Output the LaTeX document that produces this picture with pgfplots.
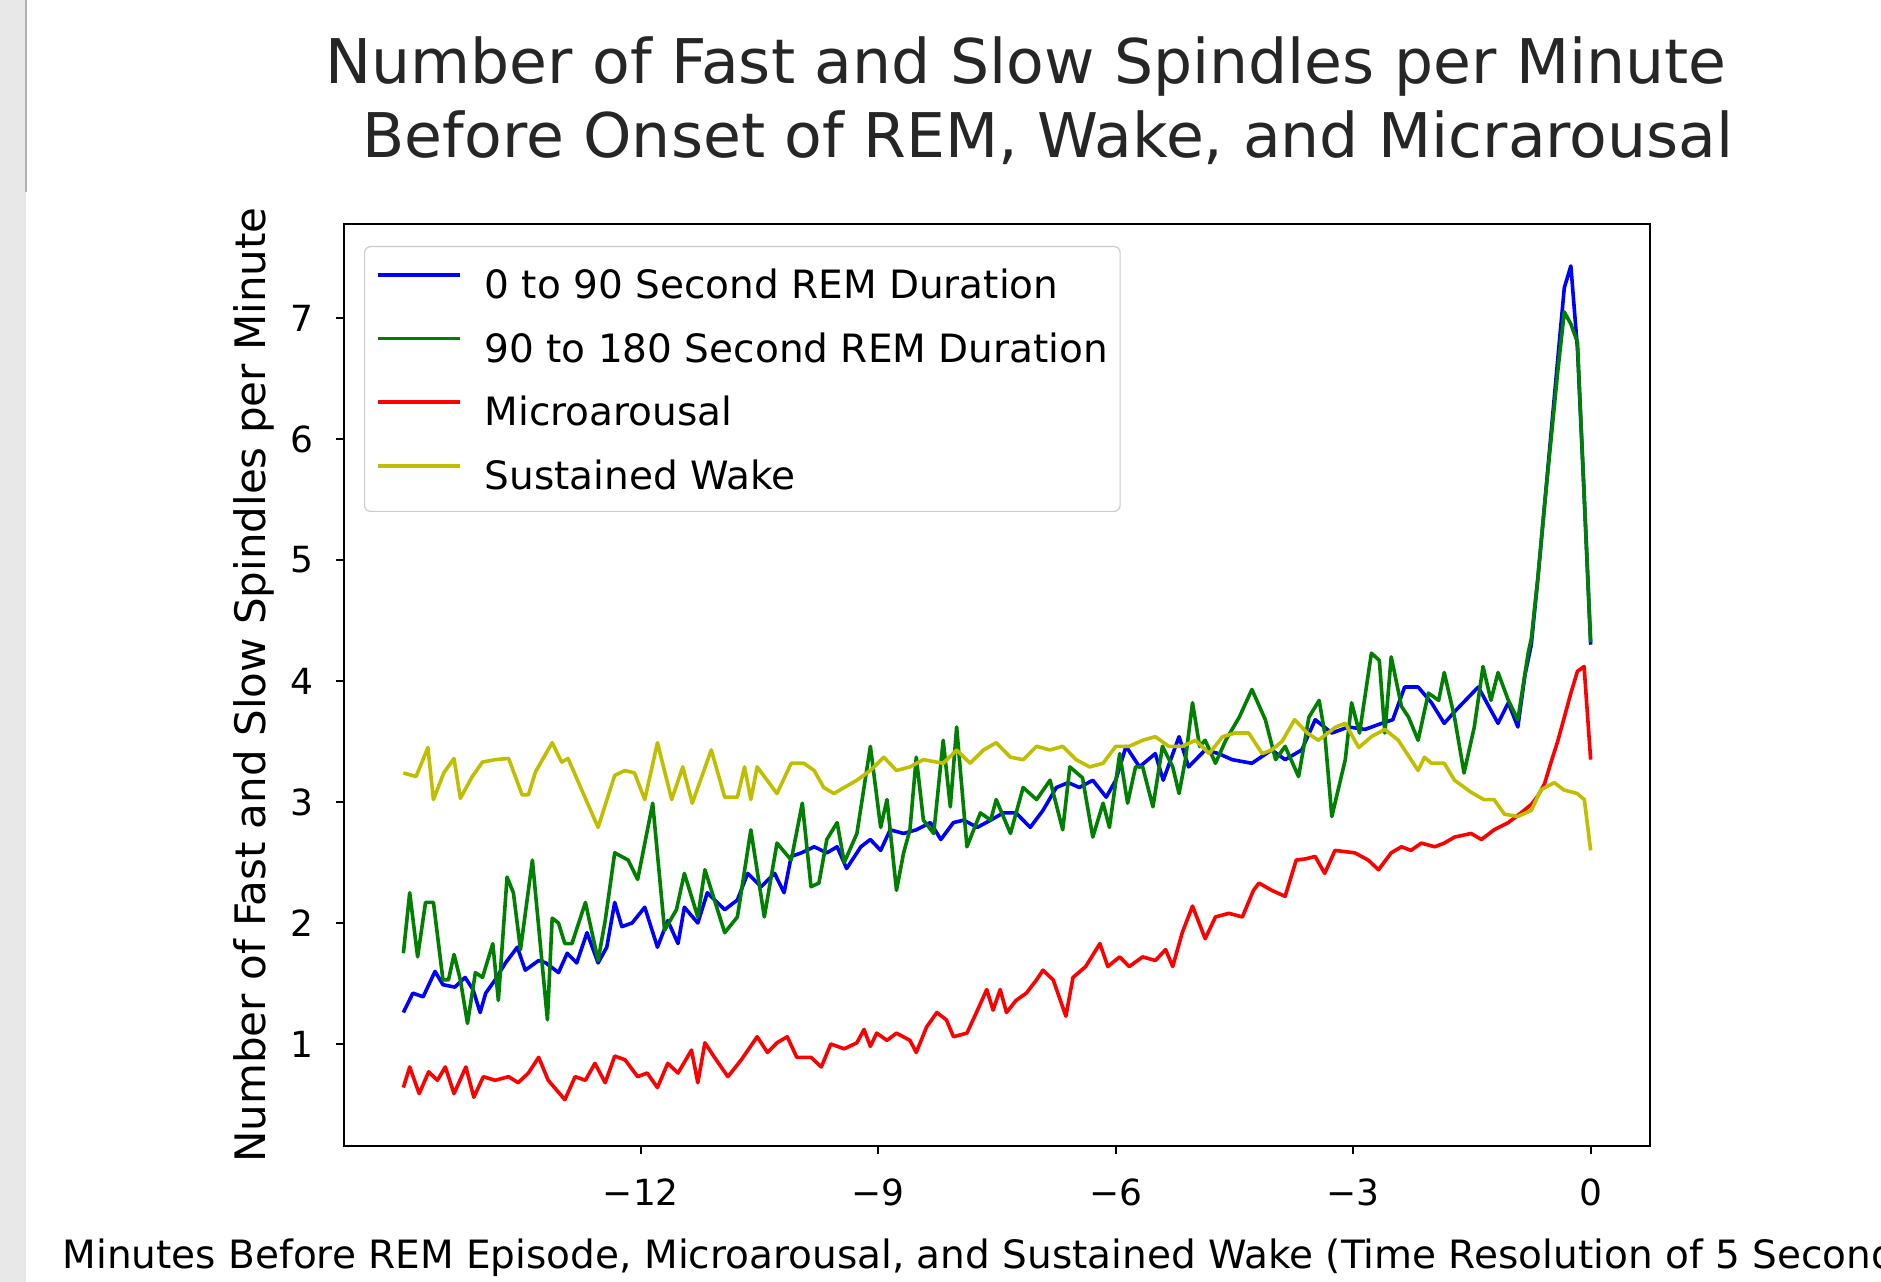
\documentclass[border=0pt]{standalone}
\usepackage{fontspec}
\setmainfont{DejaVu Sans}
\usepackage{pgfplots}
\pgfplotsset{compat=1.18}
\definecolor{mplblue}{rgb}{0,0,1}
\definecolor{mplgreen}{rgb}{0,0.5,0}
\definecolor{mplred}{rgb}{1,0,0}
\definecolor{mplyellow}{rgb}{0.75,0.75,0}
\begin{document}
\begin{tikzpicture}
\useasboundingbox (0,0) rectangle (470.25pt,320.5pt);
\clip (0,0) rectangle (470.25pt,320.5pt);
\fill[white] (0,0) rectangle (470.25pt,320.5pt);
\fill[black!9] (0,0) rectangle (6.5pt,320.5pt);
\draw[black!30, line width=0.4pt] (6.5pt,272.5pt) -- (6.5pt,320.5pt);
\node[anchor=base, inner sep=0pt, font=\fontsize{15.4}{18}\selectfont, text=black!85] at (256.5pt,299.5pt) {Number of Fast and Slow Spindles per Minute};
\node[anchor=base, inner sep=0pt, font=\fontsize{15.4}{18}\selectfont, text=black!85] at (262pt,281pt) {Before Onset of REM, Wake, and Micrarousal};
\begin{axis}[
  at={(86pt,34pt)}, anchor=south west,
  scale only axis, width=326.5pt, height=230.5pt,
  xmin=-15.75, xmax=0.75, ymin=0.157, ymax=7.777,
  xtick={-12,-9,-6,-3,0}, xticklabels={−12,−9,−6,−3,0},
  ytick={1,2,3,4,5,6,7}, yticklabels={1,2,3,4,5,6,7},
  tick align=outside, tick pos=left, major tick length=2pt,
  every tick/.style={black, line width=0.5pt},
  axis line style={line width=0.6pt},
  ticklabel style={font=\fontsize{9}{10.5}\selectfont, inner sep=0pt},
  xticklabel style={yshift=-6pt},
  yticklabel style={xshift=-5.5pt},
  xlabel={Minutes Before REM Episode, Microarousal, and Sustained Wake (Time Resolution of 5 Seconds)},
  xlabel style={at={(axis description cs:0.5,0)}, anchor=north, yshift=-23pt, inner sep=0pt, font=\fontsize{9.75}{11}\selectfont},
  ylabel={Number of Fast and Slow Spindles per Minute},
  ylabel style={at={(axis description cs:-0.0528,0.5)}, anchor=south, inner sep=0pt, font=\fontsize{10.5}{12}\selectfont},
  legend cell align=left,
  legend style={at={(0,1)}, anchor=north west, xshift=5pt, yshift=-5.5pt,
    draw=black!20, line width=0.3pt, rounded corners=1.5pt, fill=white,
    font=\fontsize{9.75}{11}\selectfont, inner xsep=3pt, inner ysep=3.3pt,
    row sep=4.0pt, column sep=5.6pt,
    nodes={inner sep=0pt, text height=7.2pt, text depth=2.2pt}},
  legend image code/.code={\path[draw=none, fill=none] (0pt,-2.2pt) rectangle (20.5pt,7.2pt);
    \draw[#1, line width=0.9pt] (0pt,3.4pt) -- (20.5pt,3.4pt);},
  every axis plot/.append style={line width=0.9pt, line join=round},
]
\addplot[mplblue] coordinates {
(-15.00,1.26) (-14.88,1.42) (-14.75,1.39) (-14.60,1.60) (-14.50,1.49) (-14.35,1.47) (-14.22,1.55) (-14.12,1.45) (-14.03,1.26) (-13.96,1.42) (-13.84,1.53) (-13.71,1.67) (-13.56,1.80) (-13.46,1.61) (-13.29,1.69) (-13.20,1.67) (-13.04,1.59) (-12.93,1.75) (-12.81,1.67) (-12.68,1.92) (-12.54,1.67) (-12.43,1.80) (-12.33,2.17) (-12.24,1.97) (-12.11,2.00) (-11.95,2.13) (-11.79,1.80) (-11.66,2.02) (-11.53,1.83) (-11.45,2.13) (-11.28,2.00) (-11.16,2.25) (-10.94,2.11) (-10.78,2.19) (-10.65,2.41) (-10.48,2.30) (-10.31,2.41) (-10.19,2.25) (-10.10,2.55) (-9.97,2.58) (-9.81,2.63) (-9.65,2.58) (-9.52,2.63) (-9.40,2.45) (-9.22,2.63) (-9.10,2.69) (-8.97,2.60) (-8.85,2.77) (-8.68,2.74) (-8.52,2.77) (-8.34,2.83) (-8.21,2.69) (-8.05,2.83) (-7.92,2.85) (-7.75,2.79) (-7.58,2.85) (-7.42,2.91) (-7.26,2.91) (-7.08,2.79) (-6.92,2.93) (-6.75,3.12) (-6.60,3.16) (-6.46,3.12) (-6.29,3.18) (-6.12,3.04) (-6.00,3.18) (-5.87,3.46) (-5.70,3.29) (-5.50,3.40) (-5.40,3.18) (-5.20,3.54) (-5.08,3.29) (-4.87,3.43) (-4.70,3.40) (-4.53,3.35) (-4.28,3.32) (-4.03,3.43) (-3.86,3.35) (-3.65,3.43) (-3.48,3.68) (-3.27,3.57) (-3.06,3.62) (-2.85,3.60) (-2.64,3.65) (-2.50,3.68) (-2.35,3.95) (-2.18,3.95) (-2.01,3.82) (-1.85,3.65) (-1.70,3.76) (-1.42,3.95) (-1.17,3.65) (-1.04,3.82) (-0.92,3.62) (-0.83,4.05) (-0.75,4.30) (-0.667,4.85) (-0.583,5.45) (-0.50,6.05) (-0.417,6.65) (-0.333,7.25) (-0.25,7.43) (-0.167,6.75) (-0.083,5.55) (0,4.30)
};
\addlegendentry{0 to 90 Second REM Duration}
\addplot[mplgreen] coordinates {
(-15.00,1.75) (-14.92,2.25) (-14.82,1.72) (-14.72,2.17) (-14.62,2.17) (-14.50,1.53) (-14.43,1.53) (-14.36,1.74) (-14.28,1.53) (-14.19,1.17) (-14.09,1.59) (-14.00,1.55) (-13.87,1.83) (-13.80,1.36) (-13.69,2.38) (-13.61,2.25) (-13.52,1.78) (-13.37,2.52) (-13.18,1.20) (-13.12,2.04) (-13.04,2.00) (-12.96,1.83) (-12.87,1.83) (-12.70,2.17) (-12.54,1.69) (-12.45,2.02) (-12.33,2.58) (-12.16,2.52) (-12.04,2.36) (-11.85,2.99) (-11.70,1.94) (-11.55,2.11) (-11.45,2.41) (-11.28,2.05) (-11.19,2.44) (-10.94,1.92) (-10.78,2.05) (-10.61,2.77) (-10.44,2.05) (-10.28,2.66) (-10.10,2.52) (-9.96,2.99) (-9.85,2.30) (-9.75,2.33) (-9.65,2.69) (-9.52,2.83) (-9.43,2.50) (-9.27,2.74) (-9.10,3.46) (-8.97,2.79) (-8.89,3.02) (-8.77,2.27) (-8.68,2.58) (-8.60,2.77) (-8.52,3.37) (-8.43,2.85) (-8.30,2.74) (-8.18,3.51) (-8.09,2.96) (-8.01,3.62) (-7.88,2.63) (-7.71,2.91) (-7.58,2.85) (-7.51,3.02) (-7.33,2.74) (-7.17,3.12) (-7.00,3.02) (-6.83,3.18) (-6.67,2.77) (-6.58,3.29) (-6.42,3.20) (-6.29,2.71) (-6.16,2.99) (-6.08,2.79) (-5.95,3.40) (-5.85,2.99) (-5.75,3.29) (-5.66,3.29) (-5.53,2.96) (-5.41,3.46) (-5.28,3.29) (-5.20,3.07) (-5.12,3.35) (-5.03,3.82) (-4.94,3.46) (-4.87,3.51) (-4.74,3.32) (-4.61,3.51) (-4.44,3.70) (-4.28,3.93) (-4.11,3.68) (-3.98,3.35) (-3.86,3.46) (-3.69,3.21) (-3.56,3.70) (-3.43,3.84) (-3.36,3.57) (-3.27,2.88) (-3.10,3.35) (-3.02,3.82) (-2.92,3.57) (-2.77,4.23) (-2.67,4.17) (-2.60,3.57) (-2.52,4.20) (-2.39,3.79) (-2.30,3.70) (-2.18,3.51) (-2.05,3.90) (-1.92,3.84) (-1.85,4.07) (-1.72,3.70) (-1.60,3.24) (-1.47,3.62) (-1.36,4.12) (-1.26,3.84) (-1.17,4.07) (-1.04,3.84) (-0.92,3.68) (-0.79,4.23) (-0.75,4.35) (-0.667,4.85) (-0.583,5.45) (-0.50,6.00) (-0.417,6.55) (-0.333,7.05) (-0.25,6.95) (-0.167,6.80) (-0.083,5.55) (0,4.32)
};
\addlegendentry{90 to 180 Second REM Duration}
\addplot[mplred] coordinates {
(-15.00,0.64) (-14.92,0.81) (-14.80,0.59) (-14.68,0.77) (-14.57,0.70) (-14.47,0.81) (-14.36,0.59) (-14.21,0.81) (-14.11,0.56) (-13.99,0.73) (-13.84,0.70) (-13.67,0.73) (-13.55,0.68) (-13.42,0.76) (-13.29,0.89) (-13.17,0.70) (-12.96,0.54) (-12.83,0.73) (-12.70,0.70) (-12.58,0.84) (-12.45,0.68) (-12.33,0.90) (-12.20,0.87) (-12.04,0.73) (-11.92,0.76) (-11.79,0.64) (-11.66,0.84) (-11.53,0.76) (-11.36,0.95) (-11.28,0.68) (-11.19,1.01) (-11.07,0.89) (-10.90,0.73) (-10.73,0.87) (-10.53,1.06) (-10.40,0.93) (-10.28,1.01) (-10.15,1.06) (-10.03,0.89) (-9.85,0.89) (-9.72,0.81) (-9.60,1.00) (-9.43,0.96) (-9.27,1.01) (-9.18,1.12) (-9.10,0.98) (-9.02,1.09) (-8.89,1.03) (-8.77,1.09) (-8.60,1.03) (-8.52,0.93) (-8.39,1.14) (-8.26,1.26) (-8.14,1.20) (-8.05,1.06) (-7.88,1.09) (-7.76,1.26) (-7.63,1.45) (-7.55,1.28) (-7.46,1.45) (-7.38,1.26) (-7.26,1.36) (-7.13,1.42) (-7.00,1.53) (-6.92,1.61) (-6.79,1.53) (-6.63,1.23) (-6.54,1.55) (-6.38,1.64) (-6.20,1.83) (-6.10,1.64) (-5.95,1.72) (-5.83,1.64) (-5.66,1.72) (-5.50,1.69) (-5.37,1.78) (-5.28,1.64) (-5.16,1.92) (-5.03,2.14) (-4.87,1.87) (-4.74,2.05) (-4.57,2.08) (-4.40,2.05) (-4.26,2.27) (-4.19,2.33) (-4.03,2.27) (-3.86,2.22) (-3.72,2.52) (-3.60,2.53) (-3.48,2.55) (-3.36,2.41) (-3.23,2.60) (-2.98,2.58) (-2.81,2.52) (-2.68,2.44) (-2.52,2.58) (-2.39,2.63) (-2.27,2.60) (-2.14,2.66) (-1.97,2.63) (-1.85,2.66) (-1.72,2.71) (-1.51,2.74) (-1.38,2.69) (-1.22,2.77) (-1.04,2.83) (-0.88,2.91) (-0.75,2.98) (-0.667,3.05) (-0.583,3.15) (-0.50,3.33) (-0.417,3.50) (-0.333,3.70) (-0.25,3.90) (-0.167,4.08) (-0.083,4.12) (0,3.35)
};
\addlegendentry{Microarousal}
\addplot[mplyellow] coordinates {
(-15.00,3.24) (-14.84,3.21) (-14.69,3.45) (-14.62,3.02) (-14.49,3.24) (-14.36,3.36) (-14.28,3.03) (-14.13,3.21) (-14.00,3.33) (-13.84,3.35) (-13.67,3.36) (-13.50,3.06) (-13.42,3.06) (-13.33,3.25) (-13.12,3.49) (-13.00,3.33) (-12.92,3.36) (-12.54,2.79) (-12.33,3.22) (-12.20,3.26) (-12.08,3.24) (-11.95,3.02) (-11.79,3.49) (-11.61,3.02) (-11.47,3.29) (-11.35,2.99) (-11.11,3.43) (-10.94,3.04) (-10.78,3.04) (-10.69,3.29) (-10.61,3.02) (-10.53,3.29) (-10.28,3.07) (-10.10,3.32) (-9.94,3.32) (-9.81,3.26) (-9.69,3.12) (-9.56,3.07) (-9.43,3.12) (-9.27,3.18) (-9.10,3.26) (-8.93,3.37) (-8.77,3.26) (-8.60,3.29) (-8.43,3.35) (-8.18,3.32) (-8.01,3.43) (-7.84,3.32) (-7.67,3.43) (-7.51,3.49) (-7.33,3.37) (-7.17,3.35) (-7.00,3.46) (-6.83,3.43) (-6.67,3.46) (-6.50,3.35) (-6.33,3.29) (-6.16,3.32) (-6.00,3.46) (-5.83,3.46) (-5.66,3.51) (-5.50,3.54) (-5.33,3.46) (-5.16,3.46) (-4.99,3.51) (-4.82,3.40) (-4.65,3.54) (-4.49,3.57) (-4.32,3.57) (-4.15,3.40) (-4.03,3.43) (-3.90,3.50) (-3.74,3.68) (-3.58,3.57) (-3.44,3.51) (-3.22,3.62) (-3.10,3.65) (-2.93,3.45) (-2.77,3.54) (-2.60,3.60) (-2.43,3.51) (-2.27,3.35) (-2.18,3.26) (-2.10,3.37) (-2.01,3.32) (-1.85,3.32) (-1.72,3.18) (-1.51,3.08) (-1.35,3.02) (-1.22,3.02) (-1.09,2.90) (-0.92,2.88) (-0.75,2.93) (-0.63,3.10) (-0.46,3.16) (-0.34,3.10) (-0.17,3.07) (-0.08,3.02) (0,2.60)
};
\addlegendentry{Sustained Wake}
\end{axis}
\end{tikzpicture}
\end{document}
